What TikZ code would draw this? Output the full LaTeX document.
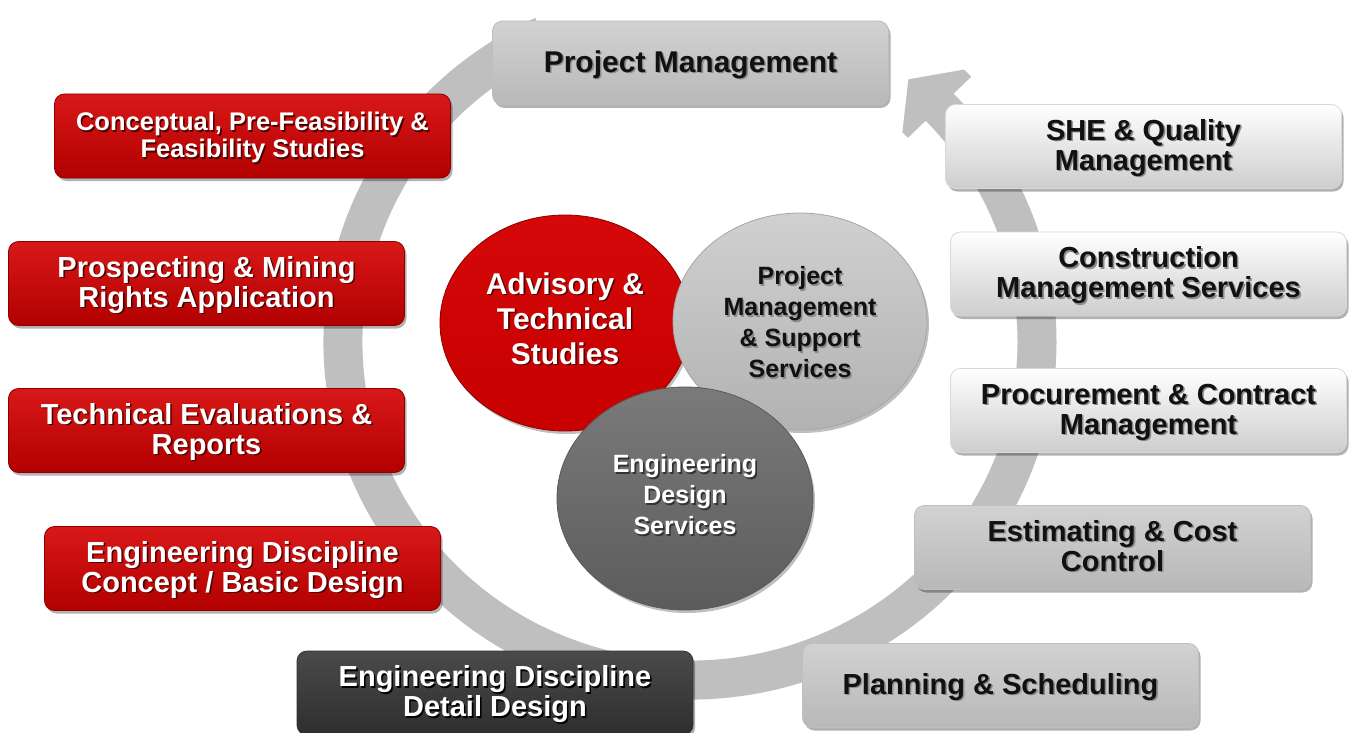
\documentclass[tikz,border=0pt]{standalone}
\usepackage{fontspec}
\setmainfont{Liberation Sans}
\usetikzlibrary{shadows,shapes.geometric,calc}

% palette
\definecolor{ringgray}{HTML}{BFBFBF}
\definecolor{redtop}{HTML}{D81818}
\definecolor{redbot}{HTML}{B20000}
\definecolor{redline}{HTML}{8C0000}
\definecolor{redshade}{HTML}{4E0000}
\definecolor{pmtop}{HTML}{D2D2D2}
\definecolor{pmbot}{HTML}{B8B8B8}
\definecolor{paletop}{HTML}{FFFFFF}
\definecolor{palebot}{HTML}{CDCDCD}
\definecolor{darktop}{HTML}{4A4A4A}
\definecolor{darkbot}{HTML}{2E2E2E}
\definecolor{circred}{HTML}{C80000}
\definecolor{circredtop}{HTML}{D40808}
\definecolor{circgraytop}{HTML}{D0D0D0}
\definecolor{circgraybot}{HTML}{B2B2B2}
\definecolor{circdarktop}{HTML}{7A7A7A}
\definecolor{circdarkbot}{HTML}{5C5C5C}
\definecolor{inkblack}{HTML}{111111}

% centred multi-line text with a soft offset shadow, lowered by \textdrop
\def\textdrop{0pt}
\newcommand\linestack[1]{\begin{tabular}{@{}c@{}}#1\end{tabular}}
\newcommand\shadowpair[3]{\raisebox{-\textdrop}[\height][\depth]{%
  \rlap{\kern1.6pt\raisebox{-1.6pt}{\color{#1}\linestack{#3}}}{\color{#2}\linestack{#3}}}}
\newcommand\whitetext[2][redshade]{\shadowpair{#1}{white}{#2}}
\newcommand\blacktext[1]{\shadowpair{black!45}{inkblack}{#1}}

\begin{document}
\begin{tikzpicture}[x=1pt,y=1pt,
  box/.style={rounded corners=10pt, minimum width=396pt, minimum height=84pt,
    inner sep=0pt, line width=0.8pt,
    font=\bfseries\fontsize{29}{30}\selectfont,
    execute at begin node={\def\textdrop{3.5pt}},
    drop shadow={shadow xshift=2pt, shadow yshift=-3pt, opacity=0.3, fill=black}},
  redbox/.style={box, top color=redtop, bottom color=redbot, draw=redline},
  pmbox/.style={box, top color=pmtop, bottom color=pmbot, draw=black!25},
  palebox/.style={box, top color=paletop, bottom color=palebot, draw=black!15},
  darkbox/.style={box, top color=darktop, bottom color=darkbot, draw=black!80},
  circ/.style={ellipse, inner sep=0pt, line width=0.8pt,
    drop shadow={shadow xshift=2pt, shadow yshift=-3pt, opacity=0.25, fill=black}},
  ring/.style={draw=ringgray, line width=39pt}
]
\fill[white] (0,0) rectangle (1354,-733);
\useasboundingbox (0,0) rectangle (1354,-733);

% circular flow arrow behind the boxes
\coordinate (rc) at (690,-342);
\draw[ring] (rc) ++(115:347 and 338) arc[start angle=115, end angle=406, x radius=347, y radius=338];
\fill[ringgray] ($(rc)+(45.5:391 and 382)$) -- ($(rc)+(51:347 and 338)$)
  -- ($(rc)+(45.5:303 and 294)$) -- ($(rc)+(44:303 and 294)$) -- ($(rc)+(44:391 and 382)$) -- cycle;

% services around the ring
\node[pmbox] (pm) at (690.5,-63) {\blacktext{\fontsize{30}{31}\selectfont Project Management}};
\node[palebox] (she) at (1143.5,-146.5) {\blacktext{SHE \& Quality\\Management}};
\node[palebox] (cms) at (1148.5,-274) {\blacktext{Construction\\Management Services}};
\node[palebox] (pcm) at (1148.5,-410.5) {\blacktext{Procurement \& Contract\\Management}};
\node[pmbox] (ecc) at (1112.5,-547.5) {\blacktext{Estimating \& Cost\\Control}};
\node[pmbox] (ps) at (1000.5,-685.5) {\blacktext{Planning \& Scheduling}};
\node[darkbox] (edd) at (495,-693) {\whitetext[black]{Engineering Discipline\\Detail Design}};
\node[redbox] (edc) at (242.5,-568.5) {\whitetext{Engineering Discipline\\Concept / Basic Design}};
\node[redbox] (ter) at (206.5,-430.5) {\whitetext{Technical Evaluations \&\\Reports}};
\node[redbox] (pmr) at (206.5,-283.5) {\whitetext{Prospecting \& Mining\\Rights Application}};
\node[redbox, font=\bfseries\fontsize{25.5}{27}\selectfont] (cpf) at (252.5,-136)
  {\whitetext{Conceptual, Pre-Feasibility \&\\Feasibility Studies}};

% the three core service areas
\node[circ, minimum width=250pt, minimum height=216pt, top color=circredtop, bottom color=circred, draw=redline]
  (ats) at (565,-323) {\bfseries\fontsize{30}{35}\selectfont\whitetext{Advisory \&\\Technical\\Studies}};
\node[circ, minimum width=254pt, minimum height=217pt, top color=circgraytop, bottom color=circgraybot, draw=black!35,
  execute at begin node={\def\textdrop{4pt}}]
  (pms) at (800,-321.5) {\bfseries\fontsize{25}{31}\selectfont\blacktext{Project\\Management\\\& Support\\Services}};
\node[circ, minimum width=256pt, minimum height=223pt, top color=circdarktop, bottom color=circdarkbot, draw=black!65]
  (eds) at (685,-498.5) {\bfseries\fontsize{25}{31}\selectfont\whitetext[black!80]{Engineering\\Design\\Services}};
\end{tikzpicture}
\end{document}
